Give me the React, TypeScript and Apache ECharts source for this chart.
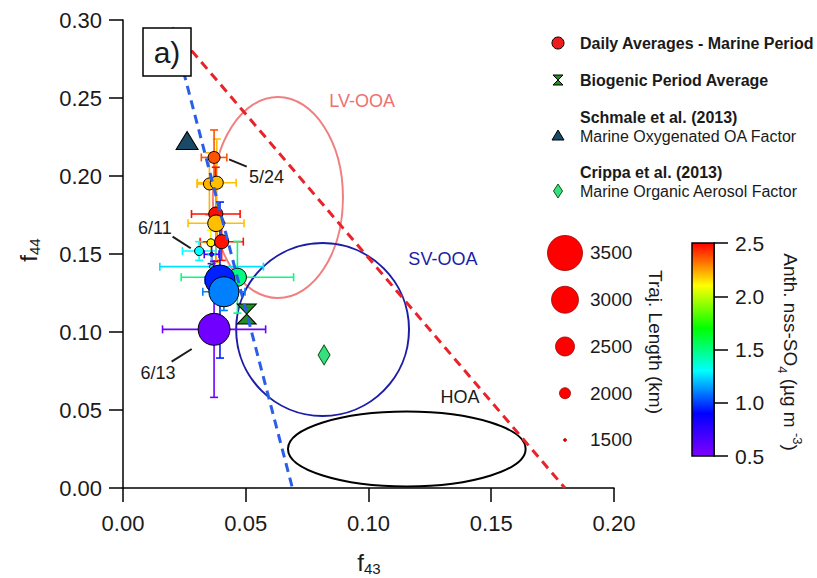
import React, { useEffect, useRef } from "react";
import * as echarts from "echarts";

const FONT = "'Liberation Sans', Arial, Helvetica, sans-serif";
const INK = "#1a1a1a";

// ---- axes ----
const xRange = [0, 0.2];
const xStep = 0.05;
const yRange = [0, 0.3];
const yStep = 0.05;

// ---- Daily averages - marine period (draw order) ----
const dailyF43 = [0.0352, 0.0382, 0.0371, 0.0378, 0.0379, 0.0358, 0.0402, 0.031, 0.0361, 0.0361, 0.0466, 0.0395, 0.0411, 0.0371];
const dailyF44 = [0.1949, 0.1957, 0.2119, 0.1756, 0.1697, 0.1572, 0.1579, 0.1519, 0.1498, 0.1419, 0.1351, 0.1333, 0.1258, 0.1017];
const dailySO4 = [2.22, 2.2, 2.37, 2.48, 2.2, 2.12, 2.47, 1.3, 0.7, 1.25, 1.5, 0.95, 1.1, 0.55];
const dailyTraj = [2060, 2125, 2060, 2190, 2350, 1810, 2190, 1875, 1560, 1590, 2440, 3190, 3190, 3310];
const dailyErrF43 = [0.005, 0.0079, 0.0052, 0.0099, 0.0114, 0.004, 0.0088, 0.0068, 0.003, 0.0211, 0.0229, 0.006, 0.0086, 0.021];
const dailyErrF44 = [0.02, 0.028, 0.0176, 0.03, 0.025, 0.008, 0.012, 0.006, 0.006, 0.008, 0.023, 0.05, 0.012, 0.0436];

// ---- reference points ----
const biogenicPoint = [0.0504, 0.1115];
const schmalePoint = [0.0261, 0.2228];
const crippaPoint = [0.0819, 0.0853];

// ---- Ng et al. triangle ----
const ngLeftLine = [[0.02, 0.295], [0.069, 0.0]];
const ngRightLine = [[0.02, 0.295], [0.18, 0.0]];

// ---- factor ellipses ----
const ellipseNames = ["LV-OOA", "SV-OOA", "HOA"];
const ellipseCenterF43 = [0.0631, 0.0813, 0.1156];
const ellipseCenterF44 = [0.1862, 0.1016, 0.025];
const ellipseRadiusF43 = [0.0265, 0.0352, 0.0484];
const ellipseRadiusF44 = [0.0644, 0.0554, 0.024];
const ellipseColors = ["#f08080", "#1c1ca8", "#000000"];

// ---- annotations ----
const annText = ["5/24", "6/11", "6/13", "LV-OOA", "SV-OOA", "HOA"];
const annAt = [[0.0585, 0.1994], [0.013, 0.1665], [0.0143, 0.0737], [0.0974, 0.2481], [0.1303, 0.1468], [0.1373, 0.0583]];
const annLeaders = [[0.0432, 0.2107, 0.0504, 0.206], [0.0202, 0.1611, 0.0276, 0.1537], [0.028, 0.0891, 0.0198, 0.081], null, null, null];
const annColors = [INK, INK, INK, "#ee7070", "#1c1ca8", INK];

// ---- size legend (trajectory length, km) ----
const sizeLegendValues = [3500, 3000, 2500, 2000, 1500];
const trajRange = [1500, 3500];
const symbolSizeRange = [3, 35];

// ---- colour bar (anth. nss-SO4) ----
const so4Range = [0.5, 2.5];
const so4Step = 0.5;
const rainbow = ["#8000ff", "#0000ff", "#00ffff", "#00ff00", "#ffff00", "#ff0000"];

const axisCommon = {
  axisLine: { show: true, onZero: false, lineStyle: { color: "#000", width: 1.5 } },
  axisTick: { show: true, inside: false, length: 14, lineStyle: { color: "#000", width: 1.5 } },
  splitLine: { show: false },
};

function buildOption() {
  const dailyData = dailyF43.map((x, i) => [x, dailyF44[i], dailySO4[i], dailyTraj[i]]);
  const errData = dailyF43.map((x, i) => [x, dailyF44[i], dailySO4[i], dailyErrF43[i], dailyErrF44[i]]);
  const ellipseData = ellipseNames.map((n, i) => [ellipseCenterF43[i], ellipseCenterF44[i], ellipseRadiusF43[i], ellipseRadiusF44[i]]);
  const annData = annAt.map((p, i) => [p[0], p[1], i]);
  const sizeLegendData = sizeLegendValues.map((v, i) => [0, i, so4Range[1], v]);

  const txt = (x, y, text, opts: any = {}) => ({
    type: "text",
    x,
    y,
    z: 100,
    rotation: opts.rotation || 0,
    style: {
      text,
      fontFamily: FONT,
      fontSize: opts.fontSize || 16,
      fontWeight: opts.fontWeight || "normal",
      fill: opts.fill || INK,
      align: opts.align || "left",
      verticalAlign: "middle",
      lineHeight: opts.lineHeight,
      rich: opts.rich,
    },
  });

  return {
    animation: false,
    backgroundColor: "#fff",
    grid: [
      { left: 123, top: 20, width: 491, height: 468 },
      { left: 548, top: 229.6, width: 34, height: 233.75 },
      { left: 692, top: 243, width: 22, height: 213 },
    ],
    xAxis: [
      {
        gridIndex: 0,
        type: "value",
        min: xRange[0],
        max: xRange[1],
        interval: xStep,
        ...axisCommon,
        axisLabel: { margin: 24, fontSize: 22, color: INK, fontFamily: FONT, formatter: (v) => v.toFixed(2) },
      },
      { gridIndex: 1, type: "value", min: -1, max: 1, show: false },
      { gridIndex: 2, type: "value", min: 0, max: 1, show: false },
    ],
    yAxis: [
      {
        gridIndex: 0,
        type: "value",
        min: yRange[0],
        max: yRange[1],
        interval: yStep,
        ...axisCommon,
        axisLabel: { margin: 21, fontSize: 22, color: INK, fontFamily: FONT, formatter: (v) => v.toFixed(2) },
      },
      {
        gridIndex: 1,
        type: "category",
        data: sizeLegendValues.map(String),
        inverse: true,
        position: "right",
        axisLine: { show: false },
        axisTick: { show: false },
        splitLine: { show: false },
        axisLabel: { margin: 8, fontSize: 19, color: INK, fontFamily: FONT },
      },
      {
        gridIndex: 2,
        type: "value",
        min: so4Range[0],
        max: so4Range[1],
        interval: so4Step,
        position: "right",
        ...axisCommon,
        axisLabel: { margin: 21, fontSize: 21, color: INK, fontFamily: FONT, formatter: (v) => v.toFixed(1) },
      },
    ],
    visualMap: [
      {
        type: "continuous",
        show: false,
        dimension: 2,
        min: so4Range[0],
        max: so4Range[1],
        seriesIndex: [3, 4, 9],
        inRange: { color: rainbow },
      },
      {
        type: "continuous",
        show: false,
        dimension: 3,
        min: trajRange[0],
        max: trajRange[1],
        seriesIndex: [4, 9],
        inRange: { symbolSize: symbolSizeRange },
      },
    ],
    series: [
      {
        type: "line",
        data: ngLeftLine,
        showSymbol: false,
        silent: true,
        lineStyle: { color: "#2a5ee8", width: 3, type: [9, 6] },
      },
      {
        type: "line",
        data: ngRightLine,
        showSymbol: false,
        silent: true,
        lineStyle: { color: "#e8232a", width: 3, type: [9, 6] },
      },
      {
        type: "custom",
        silent: true,
        data: ellipseData,
        encode: { x: 0, y: 1 },
        renderItem: (params, api) => {
          const c = api.coord([api.value(0), api.value(1)]);
          const s = api.size([api.value(2), api.value(3)]);
          return {
            type: "ellipse",
            shape: { cx: c[0], cy: c[1], rx: s[0], ry: s[1] },
            style: { fill: "none", stroke: ellipseColors[params.dataIndex], lineWidth: 2 },
          };
        },
      },
      {
        type: "custom",
        silent: true,
        data: errData,
        encode: { x: 0, y: 1 },
        renderItem: (params, api) => {
          const x = api.value(0);
          const y = api.value(1);
          const xe = api.value(3);
          const ye = api.value(4);
          const color = api.visual("color");
          const a = api.coord([x - xe, y]);
          const b = api.coord([x + xe, y]);
          const t = api.coord([x, y + ye]);
          const u = api.coord([x, y - ye]);
          const cap = 4;
          const style = { stroke: color, lineWidth: 1.6, fill: "none" };
          const ln = (x1, y1, x2, y2) => ({ type: "line", shape: { x1, y1, x2, y2 }, style });
          return {
            type: "group",
            children: [
              ln(a[0], a[1], b[0], b[1]),
              ln(a[0], a[1] - cap, a[0], a[1] + cap),
              ln(b[0], b[1] - cap, b[0], b[1] + cap),
              ln(t[0], t[1], u[0], u[1]),
              ln(t[0] - cap, t[1], t[0] + cap, t[1]),
              ln(u[0] - cap, u[1], u[0] + cap, u[1]),
            ],
          };
        },
      },
      {
        type: "scatter",
        silent: true,
        data: dailyData,
        symbol: "circle",
        itemStyle: { borderColor: "#000", borderWidth: 1, opacity: 1 },
      },
      {
        type: "scatter",
        silent: true,
        data: [biogenicPoint],
        symbol: "path://M0,0 L20,0 L0,20 L20,20 Z",
        symbolSize: [19, 20],
        itemStyle: { color: "#1f8f1f", borderColor: "#000", borderWidth: 1, opacity: 1 },
      },
      {
        type: "scatter",
        silent: true,
        data: [schmalePoint],
        symbol: "triangle",
        symbolSize: [22, 18],
        itemStyle: { color: "#1b4a66", borderColor: "#000", borderWidth: 1, opacity: 1 },
      },
      {
        type: "scatter",
        silent: true,
        data: [crippaPoint],
        symbol: "diamond",
        symbolSize: [12, 20],
        itemStyle: { color: "#35e080", borderColor: "#115511", borderWidth: 1, opacity: 1 },
      },
      {
        type: "custom",
        silent: true,
        data: annData,
        encode: { x: 0, y: 1 },
        renderItem: (params, api) => {
          const i = api.value(2);
          const p = api.coord([api.value(0), api.value(1)]);
          const children: any[] = [
            {
              type: "text",
              x: p[0],
              y: p[1],
              style: {
                text: annText[i],
                fontFamily: FONT,
                fontSize: 18,
                fill: annColors[i],
                align: "center",
                verticalAlign: "middle",
              },
            },
          ];
          const L = annLeaders[i];
          if (L) {
            const a = api.coord([L[0], L[1]]);
            const b = api.coord([L[2], L[3]]);
            children.push({
              type: "line",
              shape: { x1: a[0], y1: a[1], x2: b[0], y2: b[1] },
              style: { stroke: INK, lineWidth: 2 },
            });
          }
          return { type: "group", children };
        },
      },
      {
        type: "scatter",
        silent: true,
        xAxisIndex: 1,
        yAxisIndex: 1,
        data: sizeLegendData,
        symbol: "circle",
        itemStyle: { borderColor: "#a00000", borderWidth: 0.8, opacity: 1 },
      },
      {
        type: "custom",
        silent: true,
        xAxisIndex: 2,
        yAxisIndex: 2,
        data: [[0, so4Range[0], 1, so4Range[1]]],
        encode: { x: [0, 2], y: [1, 3] },
        renderItem: (params, api) => {
          const p0 = api.coord([api.value(0), api.value(3)]);
          const p1 = api.coord([api.value(2), api.value(1)]);
          return {
            type: "rect",
            shape: { x: p0[0], y: p0[1], width: p1[0] - p0[0], height: p1[1] - p0[1] },
            style: {
              fill: {
                type: "linear",
                x: 0,
                y: 1,
                x2: 0,
                y2: 0,
                colorStops: rainbow.map((c, k) => ({ offset: k / (rainbow.length - 1), color: c })),
              },
              stroke: "#000",
              lineWidth: 1.5,
            },
          };
        },
      },
    ],
    graphic: [
      { type: "rect", z: 100, shape: { x: 143, y: 28, width: 48, height: 48 }, style: { fill: "#fff", stroke: "#000", lineWidth: 1.5 } },
      txt(167, 52, "a)", { fontSize: 30, align: "center" }),
      // legend
      { type: "circle", z: 100, shape: { cx: 558, cy: 43, r: 6 }, style: { fill: "#ee1c1c", stroke: "#000", lineWidth: 1 } },
      txt(580, 43, "Daily Averages - Marine Period", { fontWeight: "bold" }),
      {
        type: "polygon",
        z: 100,
        shape: { points: [[553, 75], [563, 75], [553, 85], [563, 85]] },
        style: { fill: "#1f8f1f", stroke: "#000", lineWidth: 1 },
      },
      txt(580, 80, "Biogenic Period Average", { fontWeight: "bold" }),
      txt(580, 117, "Schmale et al. (2013)", { fontWeight: "bold" }),
      {
        type: "polygon",
        z: 100,
        shape: { points: [[552, 140], [564, 140], [558, 130]] },
        style: { fill: "#1b4a66", stroke: "#000", lineWidth: 1 },
      },
      txt(580, 136, "Marine Oxygenated OA Factor"),
      txt(580, 172, "Crippa et al. (2013)", { fontWeight: "bold" }),
      {
        type: "polygon",
        z: 100,
        shape: { points: [[558, 184], [562.5, 191], [558, 198], [553.5, 191]] },
        style: { fill: "#35e080", stroke: "#115511", lineWidth: 1 },
      },
      txt(580, 191, "Marine Organic Aerosol Factor"),
      // axis titles
      txt(28, 250, "f{s|44}", {
        fontSize: 24,
        align: "center",
        rotation: Math.PI / 2,
        lineHeight: 28,
        rich: { s: { fontSize: 15, verticalAlign: "bottom", fontFamily: FONT, fill: INK } },
      }),
      txt(369, 562, "f{s|43}", {
        fontSize: 24,
        align: "center",
        lineHeight: 28,
        rich: { s: { fontSize: 15, verticalAlign: "bottom", fontFamily: FONT, fill: INK } },
      }),
      txt(655, 342, "Traj. Length (km)", { fontSize: 19, align: "center", rotation: -Math.PI / 2 }),
      txt(790, 352, "Anth. nss-SO{s|4} (µg m {p|-3})", {
        fontSize: 19,
        align: "center",
        rotation: -Math.PI / 2,
        lineHeight: 28,
        rich: {
          s: { fontSize: 13, verticalAlign: "bottom", fontFamily: FONT, fill: INK },
          p: { fontSize: 13, verticalAlign: "top", fontFamily: FONT, fill: INK },
        },
      }),
    ],
  };
}

export default function App() {
  const ref = useRef<HTMLDivElement>(null);
  useEffect(() => {
    const chart = echarts.init(ref.current as HTMLDivElement, null, { renderer: "svg" });
    chart.setOption(buildOption() as any);
    return () => chart.dispose();
  }, []);
  return (
    <div
      ref={ref}
      style={{ position: "absolute", left: 0, top: 0, width: 817, height: 578, background: "#fff" }}
    />
  );
}
